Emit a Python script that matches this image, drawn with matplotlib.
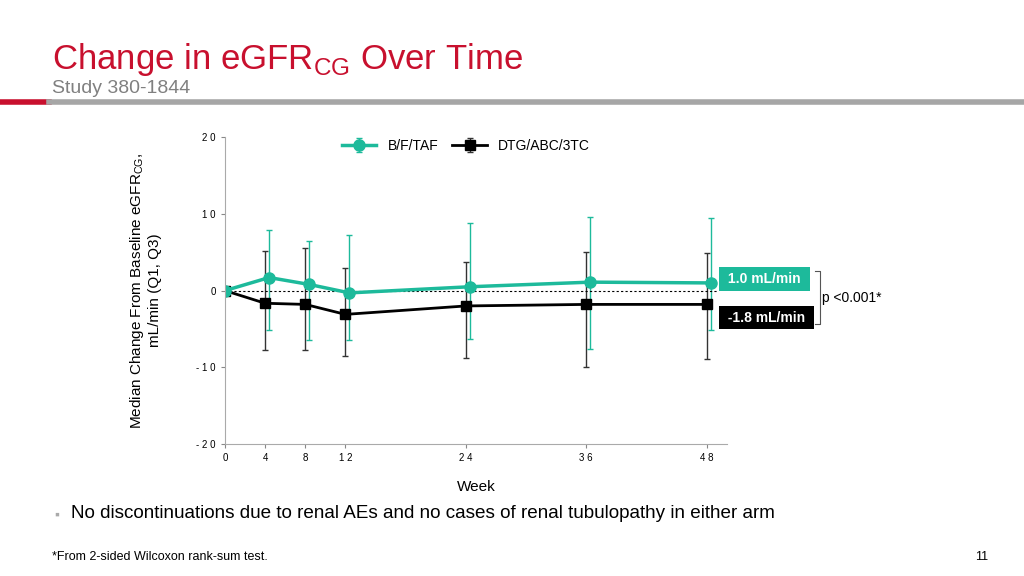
import matplotlib.pyplot as plt
from matplotlib.lines import Line2D

weeks = [0, 4, 8, 12, 24, 36, 48]
bftaf = [0, 1.7, 0.8, -0.3, 0.5, 1.1, 1.0]
bftaf_q1 = [0, -5.1, -6.5, -6.5, -6.3, -7.6, -5.1]
bftaf_q3 = [0, 7.9, 6.4, 7.3, 8.8, 9.6, 9.4]
dtg = [0, -1.65, -1.8, -3.1, -2.0, -1.8, -1.8]
dtg_q1 = [0, -7.7, -7.7, -8.5, -8.8, -10.0, -8.9]
dtg_q3 = [0, 5.2, 5.6, 3.0, 3.7, 5.0, 4.9]
xticks = [0, 4, 8, 12, 24, 36, 48]
yticks = [-20, -10, 0, 10, 20]

teal = '#1dba9b'
red = '#c8102e'

plt.rcParams['font.family'] = 'Liberation Sans'
fig = plt.figure(figsize=(10.24, 5.76), dpi=100)

fig.text(0.051, 0.88, 'Change in eGFR$_{\\mathregular{CG}}$ Over Time', color=red, fontsize=25)
fig.text(0.051, 0.838, 'Study 380-1844', color='#808080', fontsize=14)
fig.add_artist(Line2D([0, 0.048], [0.823, 0.823], color=red, lw=4))
fig.add_artist(Line2D([0.048, 1], [0.823, 0.823], color='#a6a6a6', lw=4))

ax = fig.add_axes([0.2197, 0.229, 0.49, 0.533])
off = 0.4
tx = [w + off if w > 0 else w for w in weeks]
ax.errorbar(weeks, dtg, yerr=[[d - q for d, q in zip(dtg, dtg_q1)], [q - d for d, q in zip(dtg, dtg_q3)]],
            color='black', marker='s', ms=7, lw=2, elinewidth=1, capsize=2, ecolor='#333333', label='DTG/ABC/3TC')
ax.errorbar(tx, bftaf, yerr=[[d - q for d, q in zip(bftaf, bftaf_q1)], [q - d for d, q in zip(bftaf, bftaf_q3)]],
            color=teal, marker='o', ms=8, lw=2.5, elinewidth=1, capsize=2, label='B/F/TAF')
ax.axhline(0, color='black', ls=(0, (2, 2)), lw=0.8, xmax=0.98)
ax.set_xlim(0, 50)
ax.set_ylim(-20, 20)
ax.set_xticks(xticks)
ax.set_xticklabels([' '.join(str(t)) for t in xticks])
ax.set_yticks(yticks)
ax.set_yticklabels([' '.join(str(t)) for t in yticks])
ax.tick_params(labelsize=7, length=3, color='#888888')
for s in ['top', 'right']:
    ax.spines[s].set_visible(False)
for s in ['left', 'bottom']:
    ax.spines[s].set_color('#aaaaaa')
ax.set_xlabel('Week', fontsize=11, labelpad=12)
ax.set_ylabel('Median Change From Baseline eGFR$_{\\mathregular{CG}}$,\nmL/min (Q1, Q3)', fontsize=11, labelpad=25)
h, l = ax.get_legend_handles_labels()
ax.legend(h[::-1], l[::-1], loc='upper center', bbox_to_anchor=(0.48, 1.035), ncol=2, frameon=False, fontsize=10,
          handlelength=2.5, columnspacing=1)

ax.text(0.995, 0.537, ' 1.0 mL/min ', transform=ax.transAxes, fontsize=10, fontweight='bold', color='white',
        bbox=dict(boxstyle='square,pad=0.35', fc=teal, ec='none'), va='center', ha='left')
ax.text(0.995, 0.412, ' -1.8 mL/min ', transform=ax.transAxes, fontsize=10, fontweight='bold', color='white',
        bbox=dict(boxstyle='square,pad=0.35', fc='black', ec='none'), va='center', ha='left')
ax.plot([1.175, 1.185, 1.185, 1.175], [0.565, 0.565, 0.39, 0.39], transform=ax.transAxes, color='#555555', lw=0.8, clip_on=False)
ax.text(1.19, 0.475, 'p <0.001*', transform=ax.transAxes, fontsize=10, va='center')

fig.text(0.053, 0.1, '\u25aa', color='#aaaaaa', fontsize=10)
fig.text(0.069, 0.1, 'No discontinuations due to renal AEs and no cases of renal tubulopathy in either arm', fontsize=13.6)
fig.text(0.051, 0.028, '*From 2-sided Wilcoxon rank-sum test.', fontsize=9)
fig.text(0.965, 0.028, '11', fontsize=9, ha='right')

fig.savefig('out.png', dpi=100)
